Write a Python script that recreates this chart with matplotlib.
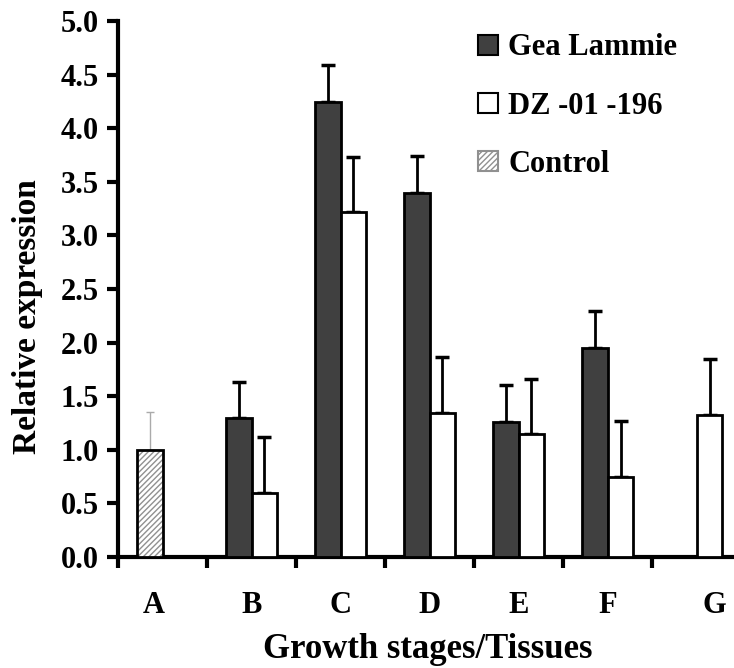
import numpy as np
import matplotlib
matplotlib.use("Agg")
import matplotlib.pyplot as plt
from matplotlib.patches import Patch

categories = ["A", "B", "C", "D", "E", "F", "G"]
gea = [np.nan, 1.30, 4.24, 3.40, 1.26, 1.95, np.nan]
gea_err = [np.nan, 0.335, 0.35, 0.34, 0.345, 0.345, np.nan]
dz = [np.nan, 0.60, 3.22, 1.34, 1.15, 0.75, 1.32]
dz_err = [np.nan, 0.52, 0.51, 0.53, 0.51, 0.52, 0.53]
control = [1.0, np.nan, np.nan, np.nan, np.nan, np.nan, np.nan]
control_err = [0.35, np.nan, np.nan, np.nan, np.nan, np.nan, np.nan]
yticks = [0.0, 0.5, 1.0, 1.5, 2.0, 2.5, 3.0, 3.5, 4.0, 4.5, 5.0]
labels = ["Gea Lammie", "DZ -01 -196", "Control"]

plt.rcParams['font.family'] = ['Liberation Serif', 'DejaVu Serif']
plt.rcParams['font.weight'] = 'bold'

fig = plt.figure(figsize=(7.34, 6.68), dpi=100)
ax = fig.add_axes([118/734, 1-557/668, 1-118/734, (557-21)/668])

x = np.arange(len(categories))
w = 0.29
dark = '#404040'

ax.bar(x - w/2, gea, w, color=dark, edgecolor='black', linewidth=2, zorder=3)
ax.errorbar(x - w/2, gea, yerr=[np.zeros(len(x)), gea_err], fmt='none',
            ecolor='black', elinewidth=2, capsize=5, capthick=2.5, zorder=2)
ax.bar(x + w/2, dz, w, color='white', edgecolor='black', linewidth=2, zorder=3)
ax.errorbar(x + w/2, dz, yerr=[np.zeros(len(x)), dz_err], fmt='none',
            ecolor='black', elinewidth=2, capsize=5, capthick=2.5, zorder=2)
# control: hatch in gray, outline black
ax.bar(x - w/2, control, w, color='white', edgecolor='#909090', hatch='//////',
       linewidth=0, zorder=3)
ax.bar(x - w/2, control, w, fill=False, edgecolor='black', linewidth=2, zorder=4)
ax.errorbar(x - w/2, control, yerr=[np.zeros(len(x)), control_err], fmt='none',
            ecolor='#aaaaaa', elinewidth=1, capsize=3, capthick=1, zorder=2)

ax.set_xlim(-0.5, 6.42)
ax.set_ylim(0, 5.0)
ax.set_yticks(yticks)
ax.set_yticklabels([f"{t:.1f}" for t in yticks], fontsize=22, fontweight='bold')
ax.set_xticks(np.arange(len(categories)) - 0.5)
ax.set_xticklabels([])
ax.tick_params(axis='both', width=3, length=8, direction='out')
ax.tick_params(axis='y', pad=6)

label_pos = x.astype(float).copy()
label_pos[0] = -0.1
label_pos[-1] = 6.2
for p, c in zip(label_pos, categories):
    ax.text(p, -0.45, c, ha='center', va='center', fontsize=22, fontweight='bold',
            transform=ax.transData, clip_on=False)

ax.spines['top'].set_visible(False)
ax.spines['right'].set_visible(False)
ax.spines['left'].set_linewidth(3)
ax.spines['bottom'].set_linewidth(3)

fig.text(428/734, 1-650/668, "Growth stages/Tissues", ha='center', va='center',
         fontsize=25, fontweight='bold')
fig.text(28/734, 1-317/668, "Relative expression", rotation=90,
         ha='center', va='center', fontsize=24, fontweight='bold')

h1 = Patch(facecolor=dark, edgecolor='black', linewidth=1.5)
h2 = Patch(facecolor='white', edgecolor='black', linewidth=1.5)
h3 = Patch(facecolor='white', edgecolor='#909090', hatch='//////', linewidth=1.5)
leg = ax.legend([h1, h2, h3], labels, loc='upper left', bbox_to_anchor=(0.54, 1.028),
                frameon=False, handlelength=0.65, handleheight=0.65,
                handletextpad=0.33, labelspacing=0.95, prop={'weight': 'bold', 'size': 22})
for t in leg.get_texts():
    t.set_fontweight('bold')

fig.savefig("out.png", dpi=100)
